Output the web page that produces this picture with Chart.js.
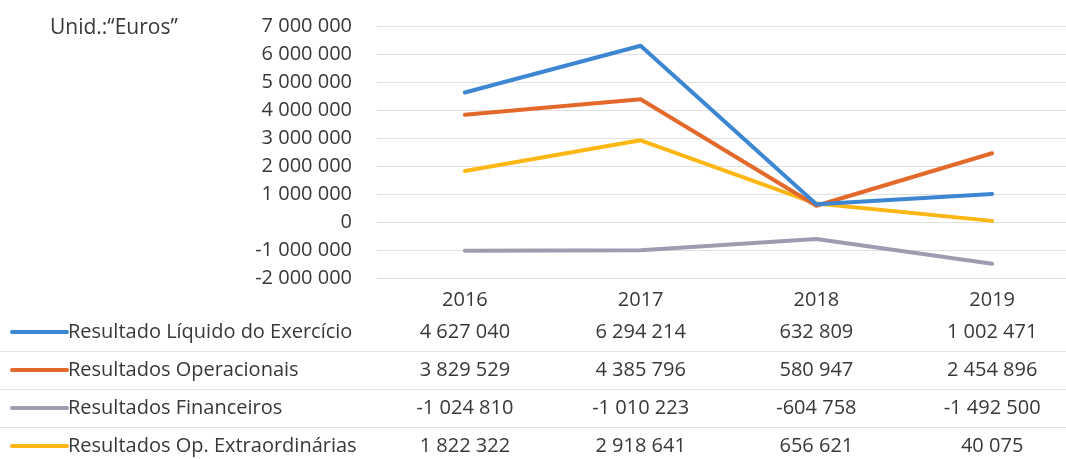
<!DOCTYPE html>
<html>
<head>
<meta charset="utf-8">
<script src="https://cdn.jsdelivr.net/npm/chart.js@4"></script>
<style>
html,body{margin:0;padding:0;background:#fff;overflow:hidden;width:1066px;height:459px;}
#wrap{position:relative;width:1090px;height:459px;}
</style>
</head>
<body>
<div id="wrap"><canvas id="c" width="1090" height="459"></canvas></div>
<script>
const categories = ['2016', '2017', '2018', '2019'];
const seriesNames = ['Resultado Líquido do Exercício', 'Resultados Operacionais', 'Resultados Financeiros', 'Resultados Op. Extraordinárias'];
const liquido = [4627040, 6294214, 632809, 1002471];
const operacionais = [3829529, 4385796, 580947, 2454896];
const financeiros = [-1024810, -1010223, -604758, -1492500];
const extraordinarias = [1822322, 2918641, 656621, 40075];
const seriesColors = ['#3C86D2', '#E3692B', '#9E9CB0', '#FDB714'];
const yMin = -2000000, yMax = 7000000, yStep = 1000000;
const unitLabel = 'Unid.:“Euros”';

const FONT = '"Open Sans", Lato, sans-serif';
const TEXT = '#383838';
function fmt(v){ return Math.round(v).toString().replace(/\B(?=(\d{3})+(?!\d))/g, ' '); }

const allSeries = [liquido, operacionais, financeiros, extraordinarias];

const tablePlugin = {
  id: 'dataTable',
  afterDraw(chart){
    const ctx = chart.ctx;
    const xs = chart.scales.x;
    ctx.save();
    ctx.font = '21px ' + FONT;
    ctx.fillStyle = TEXT;
    ctx.textBaseline = 'middle';
    ctx.textAlign = 'left';
    ctx.fillText(unitLabel, 50, 28);
    const rowY0 = 332, rowH = 38;
    ctx.strokeStyle = '#e2e2e2';
    ctx.lineWidth = 1;
    for (let i = 0; i < allSeries.length - 1; i++) {
      const y = Math.round(rowY0 + rowH * i + rowH / 2) + 0.5;
      ctx.beginPath(); ctx.moveTo(0, y); ctx.lineTo(1090, y); ctx.stroke();
    }
    for (let i = 0; i < allSeries.length; i++) {
      const y = rowY0 + rowH * i;
      ctx.strokeStyle = seriesColors[i];
      ctx.lineWidth = 4;
      ctx.lineCap = 'round';
      ctx.beginPath(); ctx.moveTo(12, y); ctx.lineTo(67, y); ctx.stroke();
      ctx.font = '20px ' + FONT;
      ctx.fillStyle = TEXT;
      ctx.textAlign = 'left';
      ctx.fillText(seriesNames[i], 68, y);
      ctx.textAlign = 'center';
      allSeries[i].forEach((v, j) => {
        ctx.fillText(fmt(v), xs.getPixelForValue(j), y);
      });
    }
    ctx.restore();
  }
};

new Chart(document.getElementById('c'), {
  type: 'line',
  data: {
    labels: categories,
    datasets: allSeries.map((d, i) => ({
      label: seriesNames[i],
      data: d,
      borderColor: seriesColors[i],
      backgroundColor: seriesColors[i],
      borderWidth: 4,
      pointRadius: 0,
      tension: 0,
      borderCapStyle: 'round',
      borderJoinStyle: 'round'
    }))
  },
  options: {
    responsive: false,
    animation: false,
    devicePixelRatio: 1,
    layout: { padding: { top: 26, right: 10, left: 0, bottom: 0 } },
    plugins: { legend: { display: false }, tooltip: { enabled: false }, title: { display: false } },
    scales: {
      x: {
        offset: true,
        grid: { display: false, offset: true },
        border: { display: false },
        ticks: { color: TEXT, font: { family: FONT, size: 20 }, padding: 2 },
        afterFit(s){ s.height = 181; s.paddingLeft = 0; s.paddingRight = 0; }
      },
      y: {
        min: yMin, max: yMax,
        grid: { color: '#e0e0e0', lineWidth: 1, drawTicks: false },
        border: { display: false },
        ticks: { stepSize: yStep, color: TEXT, font: { family: FONT, size: 20 }, padding: 25, callback: v => fmt(v) },
        afterFit(s){ s.width = 377; s.paddingTop = 0; s.paddingBottom = 0; }
      }
    }
  },
  plugins: [tablePlugin]
});
</script>
</body>
</html>
